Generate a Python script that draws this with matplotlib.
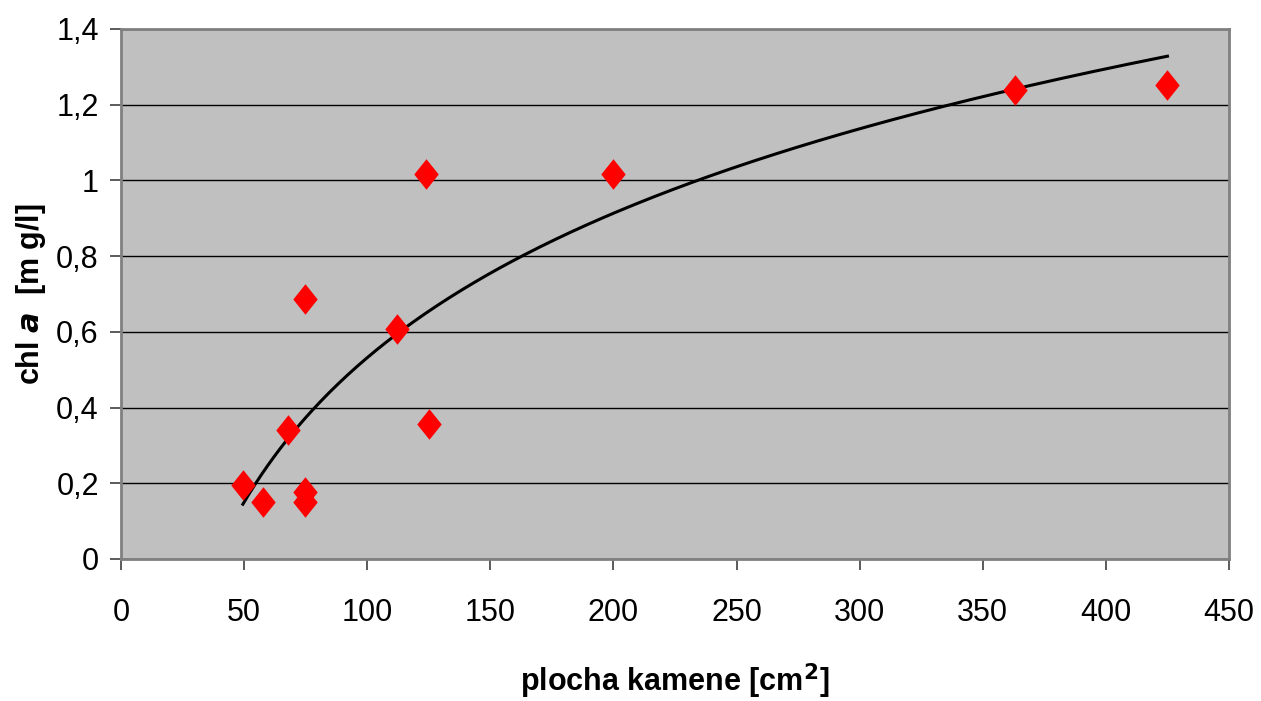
import numpy as np
import matplotlib
matplotlib.use("Agg")
import matplotlib.pyplot as plt
from matplotlib.path import Path
from matplotlib import font_manager

# Data
area_cm2 = [49.5, 57.5, 68.0, 74.7, 74.7, 74.7, 112.0, 124.0, 125.0, 200.0, 363.0, 425.0]
chl_a = [0.195, 0.150, 0.340, 0.687, 0.177, 0.150, 0.607, 1.017, 0.357, 1.017, 1.238, 1.252]

x_ticks = [0, 50, 100, 150, 200, 250, 300, 350, 400, 450]
y_ticks = [0, 0.2, 0.4, 0.6, 0.8, 1.0, 1.2, 1.4]
y_tick_labels = ["0", "0,2", "0,4", "0,6", "0,8", "1", "1,2", "1,4"]

names = {f.name for f in font_manager.fontManager.ttflist}
fam = "Liberation Sans Narrow" if "Liberation Sans Narrow" in names else "Liberation Sans"
plt.rcParams['font.family'] = [fam, 'DejaVu Sans']

fig = plt.figure(figsize=(12.61, 7.01), dpi=100)
ax = fig.add_axes([121/1261, 1 - 559/701, (1229-121)/1261, (559-29)/701])
ax.set_facecolor('#C0C0C0')

# logarithmic trend line fitted to data (as Excel does)
xa = np.array(area_cm2); ya = np.array(chl_a)
a, b = np.polyfit(np.log(xa), ya, 1)
xs = np.linspace(xa.min(), xa.max(), 300)
ax.plot(xs, a*np.log(xs) + b, color='black', lw=2.2, zorder=3)

diamond = Path([(0, 1), (0.8, 0), (0, -1), (-0.8, 0), (0, 1)],
               [Path.MOVETO, Path.LINETO, Path.LINETO, Path.LINETO, Path.CLOSEPOLY])
ax.plot(area_cm2, chl_a, linestyle='none', marker=diamond, markersize=22,
        color='#FF0000', markeredgewidth=0, zorder=4)

ax.set_xlim(0, 450)
ax.set_ylim(0, 1.4)
ax.set_xticks(x_ticks)
ax.set_xticklabels([str(t) for t in x_ticks])
ax.set_yticks(y_ticks)
ax.set_yticklabels(y_tick_labels)
ax.yaxis.grid(True, color='black', lw=1)
ax.set_axisbelow(True)
for s in ax.spines.values():
    s.set_color('#808080')
    s.set_linewidth(2)
ax.tick_params(axis='both', direction='out', length=8, width=1.2, color='#404040',
               labelsize=22)
ax.tick_params(axis='x', pad=20)
ax.tick_params(axis='y', pad=8)

ax.set_xlabel(r"plocha kamene [cm$^\mathbf{2}$]", fontsize=22, fontweight='bold', labelpad=24)
ax.set_ylabel(r"chl $\mathbfit{a}$  [m g/l]", fontsize=22, fontweight='bold', labelpad=6)

fig.savefig("out.png", dpi=100)
